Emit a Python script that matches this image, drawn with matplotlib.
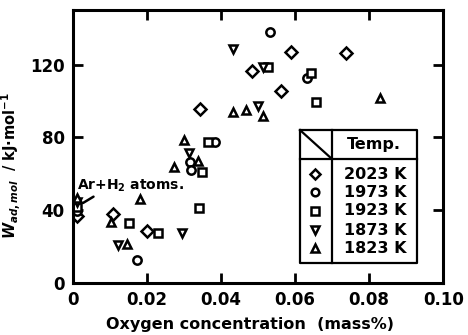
import matplotlib
matplotlib.use("Agg")
import matplotlib.pyplot as plt

plt.rcParams['font.family'] = 'DejaVu Sans'
plt.rcParams['font.weight'] = 'bold'
plt.rcParams['axes.labelweight'] = 'bold'
plt.rcParams['mathtext.fontset'] = 'custom'
plt.rcParams['mathtext.rm'] = 'DejaVu Sans:bold'
plt.rcParams['mathtext.it'] = 'DejaVu Sans:italic:bold'

# adhesion work vs oxygen content, one series per temperature
temps = ["2023 K", "1973 K", "1923 K", "1873 K", "1823 K"]
markers = ["D", "o", "s", "v", "^"]

x_2023 = [0.0343, 0.0484, 0.0590, 0.0563, 0.0737, 0.0109, 0.0201]
y_2023 = [95.6, 116.5, 127.0, 105.5, 126.4, 37.9, 28.6]

x_1973 = [0.0531, 0.0631, 0.0174, 0.0316, 0.0318, 0.0384]
y_1973 = [137.9, 112.6, 12.6, 66.5, 62.1, 77.5]

x_1923 = [0.0642, 0.0656, 0.0528, 0.0365, 0.0348, 0.0340, 0.0229, 0.0150]
y_1923 = [115.4, 99.5, 118.7, 77.5, 61.0, 41.2, 27.5, 33.0]

x_1873 = [0.0433, 0.0514, 0.0500, 0.0313, 0.0294, 0.0122]
y_1873 = [128.6, 118.7, 97.3, 71.4, 27.5, 20.9]

x_1823 = [0.0830, 0.0433, 0.0468, 0.0514, 0.0300, 0.0337, 0.0272, 0.0180, 0.0103, 0.0147]
y_1823 = [101.6, 94.0, 95.0, 91.8, 78.6, 67.0, 63.7, 46.2, 33.5, 21.4]

# Ar+H2 atmosphere runs (no added oxygen), same marker order as temps
ar_x = [0.001, 0.001, 0.001, 0.001, 0.001]
ar_y = [37.0, 39.5, 42.0, 44.5, 47.0]

series = [(x_2023, y_2023), (x_1973, y_1973), (x_1923, y_1923),
          (x_1873, y_1873), (x_1823, y_1823)]

fig = plt.figure(figsize=(4.68, 3.35), dpi=100)
ax = fig.add_axes([0.156, 0.155, 0.791, 0.815])

mk = dict(linestyle='none', markerfacecolor='white', markeredgecolor='black',
          markersize=6, markeredgewidth=1.8)
for (xs, ys), m in zip(series, markers):
    ax.plot(xs, ys, marker=m, **mk)
for xv, yv, m in zip(ar_x, ar_y, markers):
    ax.plot([xv], [yv], marker=m, **mk)

ax.set_xlim(0, 0.10)
ax.set_ylim(0, 150)
ax.set_xticks([0, 0.02, 0.04, 0.06, 0.08, 0.10])
ax.set_xticklabels(["0", "0.02", "0.04", "0.06", "0.08", "0.10"])
ax.set_yticks([0, 40, 80, 120])
ax.tick_params(direction='in', length=7, width=2, labelsize=12,
               top=True, right=True, pad=6)
for s in ax.spines.values():
    s.set_linewidth(2.2)

ax.set_xlabel("Oxygen concentration  (mass%)", fontsize=11.5)
ax.xaxis.set_label_coords(0.478, -0.125)
ax.set_ylabel(r"$W_{ad,mol}$  / kJ·mol$^{-1}$", fontsize=10.5)
ax.yaxis.set_label_coords(-0.135, 0.43)

ax.annotate("Ar+H$_2$ atoms.", xy=(0.0027, 44), xytext=(0.001, 53.5),
            fontsize=10, va='center', ha='left',
            arrowprops=dict(arrowstyle='-', lw=1.8, color='black',
                            shrinkA=0, shrinkB=0,
                            relpos=(0.2, 0.0)))

# hand-drawn legend table
tl, tr, td = 0.6135, 0.930, 0.700
tt, th, tb = 0.560, 0.454, 0.073
lw = 1.6
tk = dict(transform=ax.transAxes, color='black', lw=lw, clip_on=False)
ax.plot([tl, tr, tr, tl, tl], [tt, tt, tb, tb, tt], **tk)
ax.plot([tl, tr], [th, th], **tk)
ax.plot([td, td], [tt, tb], **tk)
ax.plot([tl, td], [tt, th], **tk)
ax.text(0.812, 0.507, "Temp.", transform=ax.transAxes, ha='center',
        va='center', fontsize=11.5)

row_y = [0.399, 0.333, 0.264, 0.194, 0.128]
for ry, m, t in zip(row_y, markers, temps):
    ax.plot([0.654], [ry], marker=m, transform=ax.transAxes, clip_on=False,
            linestyle='none', markerfacecolor='white', markeredgecolor='black',
            markersize=5.5, markeredgewidth=1.8)
    ax.text(0.816, ry, t, transform=ax.transAxes, ha='center', va='center',
            fontsize=11.5)

fig.savefig("out.png", dpi=100)
